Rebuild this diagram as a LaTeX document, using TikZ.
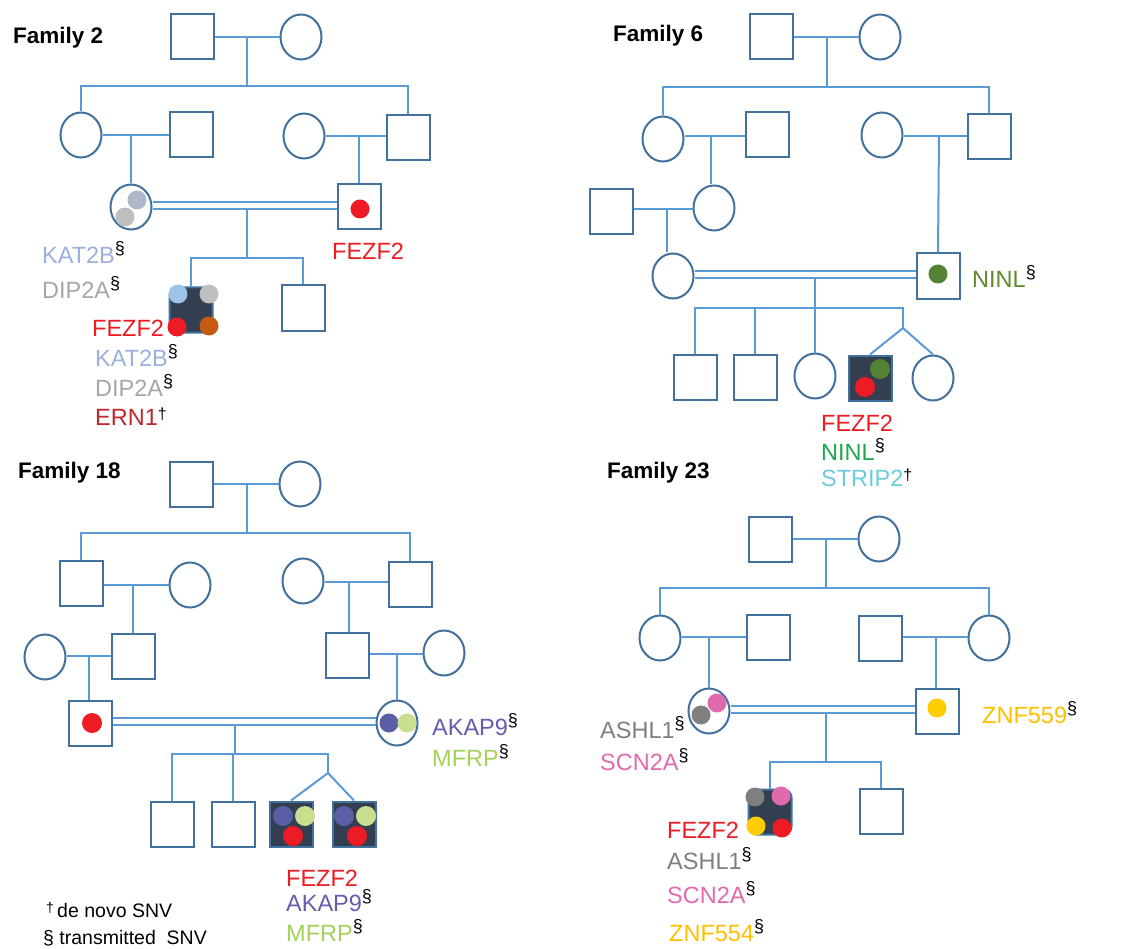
\documentclass[tikz,border=0pt]{standalone}
\usepackage{fontspec}
\setmainfont{Liberation Sans}
\usetikzlibrary{shapes.geometric}
\definecolor{shapeblue}{HTML}{41719C}
\definecolor{lineblue}{HTML}{5B9BD5}
\definecolor{affill}{HTML}{333F50}
\definecolor{cred}{HTML}{ED1C24}
\definecolor{katt}{HTML}{9CB0DE}
\definecolor{katd}{HTML}{ADB9CA}
\definecolor{katl}{HTML}{9DC3E6}
\definecolor{dipt}{HTML}{A6A6A6}
\definecolor{dipd}{HTML}{BFBFBF}
\definecolor{ernt}{HTML}{C0272D}
\definecolor{ernd}{HTML}{C55A11}
\definecolor{ninlo}{HTML}{5F8A2E}
\definecolor{ninlg}{HTML}{1FA84E}
\definecolor{ninld}{HTML}{548235}
\definecolor{stript}{HTML}{6CCBDD}
\definecolor{akapt}{HTML}{6A5BAE}
\definecolor{akapd}{HTML}{5B5EA6}
\definecolor{mfrpt}{HTML}{A3D15A}
\definecolor{mfrpd}{HTML}{C9DF8F}
\definecolor{ashl}{HTML}{7F7F7F}
\definecolor{scnt}{HTML}{E06AAE}
\definecolor{znft}{HTML}{FFC000}
\definecolor{znfd}{HTML}{FFCC00}
\newcommand\trs{{\color{black}\raisebox{9pt}{\fontsize{18}{18}\selectfont\S}}}
\newcommand\dnv{{\color{black}\raisebox{6pt}{\fontsize{16}{16}\selectfont\textdagger}}}
\begin{document}
\begin{tikzpicture}[x=1pt,y=-1pt,
  male/.style={rectangle, draw=shapeblue, line width=2pt, fill=white, minimum width=43pt, minimum height=45pt, inner sep=0pt},
  female/.style={ellipse, draw=shapeblue, line width=2pt, fill=white, minimum width=41pt, minimum height=45pt, inner sep=0pt},
  affsq/.style={male, fill=affill},
  affround/.style={affsq, rounded corners=8pt},
  dot/.style={circle, draw=none, inner sep=0pt, minimum size=19pt},
  link/.style={draw=lineblue, line width=2pt},
  gene/.style={anchor=base west, inner sep=0pt, font=\fontsize{23.5}{28}\selectfont},
  legend/.style={anchor=base west, inner sep=0pt, font=\fontsize{19.5}{23}\selectfont},
  title/.style={anchor=base west, inner sep=0pt, font=\bfseries\fontsize{22.5}{27}\selectfont}]
\useasboundingbox (0,0) rectangle (1123,949);
\fill[white] (0,0) rectangle (1123,949);

% ================= Family 2 =================
\node[title] (t2) at (13,44) {Family 2};
\node[male] (f2a) at (192,37) {};
\node[female] (f2b) at (301,37) {};
\node[female] (f2c) at (81,135) {};
\node[male] (f2d) at (191,135) {};
\node[female] (f2e) at (304,136) {};
\node[male] (f2f) at (408,138) {};
\node[female] (f2g) at (131,207) {};
\node[male] (f2h) at (359,207) {};
\node[affround] (f2i) at (191,310) {};
\node[male] (f2l) at (303,308) {};
\coordinate (f2j1) at (247,37);
\coordinate (f2k1) at (247,86);
\coordinate (f2j2) at (131,135);
\coordinate (f2j4) at (359,136);
\coordinate (f2j3) at (247,209);
\coordinate (f2k3) at (247,258);
\draw[link] (f2a.east) -- (f2b.west);
\draw[link] (f2j1) -- (f2k1);
\draw[link] (f2c.north) |- (f2k1) -| (f2f.north);
\draw[link] (f2c.east) -- (f2d.west);
\draw[link] (f2j2) -- (f2g.north);
\draw[link] (f2e.east) -- (f2f.west |- f2j4);
\draw[link] (f2j4) -- (f2h.north);
\draw[link] ([yshift=5pt]f2g.east) -- ([yshift=5pt]f2h.west);
\draw[link] ([yshift=-2pt]f2g.east) -- ([yshift=-2pt]f2h.west);
\draw[link] (f2j3) -- (f2k3);
\draw[link] (f2i.north) |- (f2k3) -| (f2l.north);
\node[dot, fill=katd] (f2d1) at (137,200) {};
\node[dot, fill=dipd] (f2d2) at (125,217) {};
\node[dot, fill=cred] (f2d3) at (360,209) {};
\node[dot, fill=katl] (f2d4) at (178,294) {};
\node[dot, fill=dipd] (f2d5) at (209,294) {};
\node[dot, fill=cred] (f2d6) at (177,327) {};
\node[dot, fill=ernd] (f2d7) at (209,326) {};
\node[gene, text=katt] (g21) at (42,263.5) {KAT2B\trs};
\node[gene, text=dipt] (g22) at (42,298.5) {DIP2A\trs};
\node[gene, text=cred] (g23) at (332,259.5) {FEZF2};
\node[gene, text=cred] (g24) at (92,336.5) {FEZF2};
\node[gene, text=katt] (g25) at (95,366.5) {KAT2B\trs};
\node[gene, text=dipt] (g26) at (95,396.5) {DIP2A\trs};
\node[gene, text=ernt] (g27) at (95,425.5) {ERN1\dnv};

% ================= Family 6 =================
\node[title] (t6) at (613,42) {Family 6};
\node[male] (f6a) at (771,37) {};
\node[female] (f6b) at (880,37) {};
\node[female] (f6c) at (663,139) {};
\node[male] (f6d) at (767,135) {};
\node[female] (f6e) at (882,135) {};
\node[male] (f6f) at (989,137) {};
\node[male] (f6g) at (611,212) {};
\node[female] (f6h) at (714,208) {};
\node[female] (f6i) at (673,276) {};
\node[male] (f6k) at (938,276) {};
\node[male] (f6l) at (695,377) {};
\node[male] (f6m) at (755,377) {};
\node[female] (f6n) at (815,376) {};
\node[affsq] (f6o) at (870,378) {};
\node[female] (f6p) at (933,378) {};
\coordinate (f6j1) at (827,37);
\coordinate (f6k1) at (827,87);
\coordinate (f6j2) at (711,136);
\coordinate (f6j3) at (667,209);
\coordinate (f6j4) at (939,136);
\coordinate (f6j5) at (815,278);
\coordinate (f6k5) at (815,308);
\coordinate (f6r) at (903,308);
\coordinate (f6q) at (903,328);
\draw[link] (f6a.east) -- (f6b.west);
\draw[link] (f6j1) -- (f6k1);
\draw[link] (f6c.north) |- (f6k1) -| (f6f.north);
\draw[link] (f6c.east |- f6j2) -- (f6d.west |- f6j2);
\draw[link] (f6j2) -- (f6j2 |- f6h.north);
\draw[link] (f6g.east |- f6j3) -- (f6h.west |- f6j3);
\draw[link] (f6j3) -- (f6j3 |- f6i.north);
\draw[link] (f6e.east |- f6j4) -- (f6f.west |- f6j4);
\draw[link] (f6j4) -- (f6k.north);
\draw[link] ([yshift=5pt]f6i.east) -- ([yshift=5pt]f6k.west);
\draw[link] ([yshift=-2pt]f6i.east) -- ([yshift=-2pt]f6k.west);
\draw[link] (f6j5) -- (f6k5);
\draw[link] (f6l.north) |- (f6r) -- (f6q);
\draw[link] (f6m.north) -- (f6m.north |- f6r);
\draw[link] (f6n.north) -- (f6n.north |- f6r);
\draw[link] (f6q) -- (f6o.north);
\draw[link] (f6q) -- (f6p.north);
\node[dot, fill=ninld] (f6d1) at (938,274) {};
\node[dot, fill=ninld, minimum size=20pt] (f6d2) at (880,369) {};
\node[dot, fill=cred, minimum size=20pt] (f6d3) at (865,387) {};
\node[gene, text=ninlo] (g61) at (972,287.5) {NINL\trs};
\node[gene, text=cred] (g62) at (821,431.5) {FEZF2};
\node[gene, text=ninlg] (g63) at (821,460.5) {NINL\trs};
\node[gene, text=stript] (g64) at (821,486.5) {STRIP2\dnv};

% ================= Family 18 =================
\node[title] (t18) at (18,478) {Family 18};
\node[male] (f18a) at (191,484) {};
\node[female] (f18b) at (300,484) {};
\node[male] (f18c) at (81,583) {};
\node[female] (f18d) at (190,585) {};
\node[female] (f18e) at (303,581) {};
\node[male] (f18f) at (410,584) {};
\node[female] (f18g) at (45,657) {};
\node[male] (f18h) at (133,656) {};
\node[male] (f18i) at (347,655) {};
\node[female] (f18j) at (444,653) {};
\node[male] (f18k) at (90,723) {};
\node[female] (f18l) at (397,723) {};
\node[male] (f18m) at (172,824) {};
\node[male] (f18n) at (233,824) {};
\node[affsq] (f18o) at (291,824) {};
\node[affsq] (f18p) at (354,824) {};
\coordinate (f18j1) at (247,484);
\coordinate (f18k1) at (247,533);
\coordinate (f18j2) at (133,585);
\coordinate (f18j3) at (349,582);
\coordinate (f18j4) at (89,656);
\coordinate (f18j5) at (397,654);
\coordinate (f18j6) at (235,725);
\coordinate (f18k6) at (235,754);
\coordinate (f18r) at (328,754);
\coordinate (f18q) at (328,773);
\draw[link] (f18a.east) -- (f18b.west);
\draw[link] (f18j1) -- (f18k1);
\draw[link] (f18c.north) |- (f18k1) -| (f18f.north);
\draw[link] (f18c.east |- f18j2) -- (f18d.west |- f18j2);
\draw[link] (f18j2) -- (f18h.north);
\draw[link] (f18e.east |- f18j3) -- (f18f.west |- f18j3);
\draw[link] (f18j3) -- (f18j3 |- f18i.north);
\draw[link] (f18g.east |- f18j4) -- (f18h.west |- f18j4);
\draw[link] (f18j4) -- (f18j4 |- f18k.north);
\draw[link] (f18i.east |- f18j5) -- (f18j.west |- f18j5);
\draw[link] (f18j5) -- (f18l.north);
\draw[link] ([yshift=5pt]f18k.east) -- ([yshift=5pt]f18l.west);
\draw[link] ([yshift=-2pt]f18k.east) -- ([yshift=-2pt]f18l.west);
\draw[link] (f18j6) -- (f18k6);
\draw[link] (f18m.north) |- (f18r) -- (f18q);
\draw[link] (f18n.north) -- (f18n.north |- f18r);
\draw[link] (f18q) -- (f18o.north);
\draw[link] (f18q) -- (f18p.north);
\node[dot, fill=cred, minimum size=20pt] (f18d1) at (92,723) {};
\node[dot, fill=akapd] (f18d2) at (389,723) {};
\node[dot, fill=mfrpd] (f18d3) at (407,723) {};
\node[dot, fill=akapd, minimum size=20pt] (f18d4) at (283,816) {};
\node[dot, fill=mfrpd, minimum size=20pt] (f18d5) at (305,816) {};
\node[dot, fill=cred, minimum size=20pt] (f18d6) at (293,836) {};
\node[dot, fill=akapd, minimum size=20pt] (f18d7) at (344,816) {};
\node[dot, fill=mfrpd, minimum size=20pt] (f18d8) at (366,816) {};
\node[dot, fill=cred, minimum size=20pt] (f18d9) at (357,836) {};
\node[gene, text=akapt] (g181) at (432,735.5) {AKAP9\trs};
\node[gene, text=mfrpt] (g182) at (432,766.5) {MFRP\trs};
\node[gene, text=cred] (g183) at (286,886.5) {FEZF2};
\node[gene, text=akapt] (g184) at (286,911.5) {AKAP9\trs};
\node[gene, text=mfrpt] (g185) at (286,941.5) {MFRP\trs};
\node[legend] (l1) at (46,917) {\raisebox{5pt}{\fontsize{14}{14}\selectfont\textdagger}\,de novo SNV};
\node[legend] (l2) at (43,944) {\S\ transmitted\ \ SNV};

% ================= Family 23 =================
\node[title] (t23) at (607,478) {Family 23};
\node[male] (f23a) at (770,539) {};
\node[female] (f23b) at (879,539) {};
\node[female] (f23c) at (660,638) {};
\node[male] (f23d) at (768,637) {};
\node[male] (f23e) at (880,638) {};
\node[female] (f23f) at (989,638) {};
\node[female] (f23g) at (709,711) {};
\node[male] (f23h) at (937,711) {};
\node[affround] (f23i) at (770,812) {};
\node[male] (f23j) at (881,811) {};
\coordinate (f23j1) at (826,539);
\coordinate (f23k1) at (826,588);
\coordinate (f23j2) at (709,637);
\coordinate (f23j3) at (936,637);
\coordinate (f23j4) at (826,713);
\coordinate (f23k4) at (826,762);
\draw[link] (f23a.east) -- (f23b.west);
\draw[link] (f23j1) -- (f23k1);
\draw[link] (f23c.north) |- (f23k1) -| (f23f.north);
\draw[link] (f23c.east |- f23j2) -- (f23d.west |- f23j2);
\draw[link] (f23j2) -- (f23g.north);
\draw[link] (f23e.east |- f23j3) -- (f23f.west |- f23j3);
\draw[link] (f23j3) -- (f23j3 |- f23h.north);
\draw[link] ([yshift=5pt]f23g.east) -- ([yshift=5pt]f23h.west);
\draw[link] ([yshift=-2pt]f23g.east) -- ([yshift=-2pt]f23h.west);
\draw[link] (f23j4) -- (f23k4);
\draw[link] (f23i.north) |- (f23k4) -| (f23j.north);
\node[dot, fill=scnt] (f23d1) at (717,703) {};
\node[dot, fill=ashl] (f23d2) at (701,715) {};
\node[dot, fill=znfd] (f23d3) at (937,708) {};
\node[dot, fill=ashl] (f23d4) at (755,797) {};
\node[dot, fill=scnt] (f23d5) at (781,796) {};
\node[dot, fill=znfd] (f23d6) at (756,826) {};
\node[dot, fill=cred] (f23d7) at (782,828) {};
\node[gene, text=ashl] (g231) at (600,738.5) {ASHL1\trs};
\node[gene, text=scnt] (g232) at (600,770.5) {SCN2A\trs};
\node[gene, text=znft] (g233) at (982,723.5) {ZNF559\trs};
\node[gene, text=cred] (g234) at (667,838.5) {FEZF2};
\node[gene, text=ashl] (g235) at (667,869.5) {ASHL1\trs};
\node[gene, text=scnt] (g236) at (667,903.5) {SCN2A\trs};
\node[gene, text=znft] (g237) at (669,941.5) {ZNF554\trs};
\end{tikzpicture}
\end{document}
